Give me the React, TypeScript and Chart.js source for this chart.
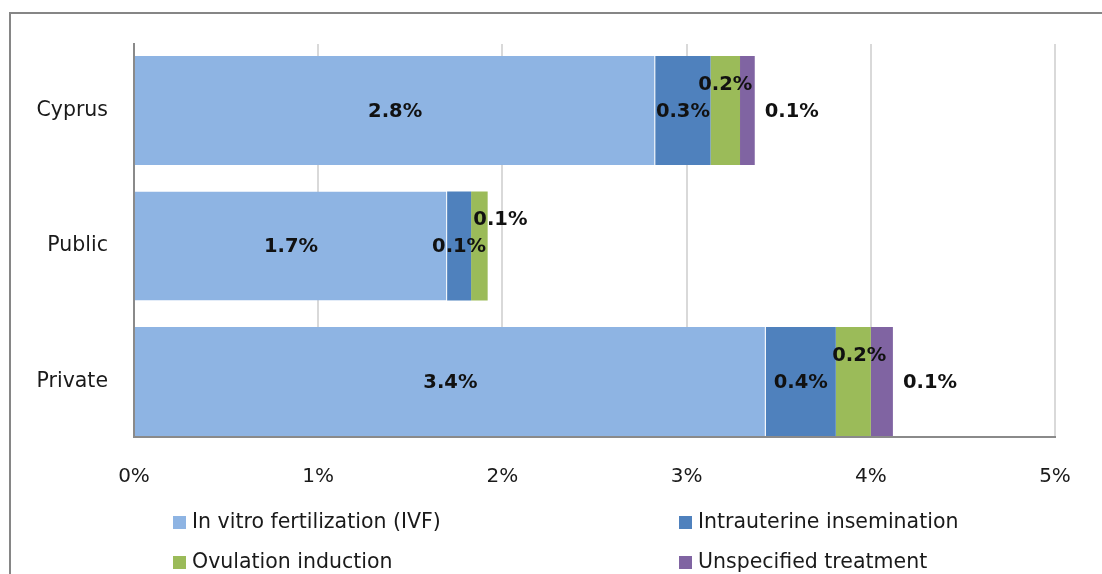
import React, { useEffect, useRef } from "react";
import { Chart, registerables } from "chart.js";

Chart.register(...registerables);

const categories = ["Cyprus", "Public", "Private"];
const seriesNames = [
  "In vitro fertilization (IVF)",
  "Intrauterine insemination",
  "Ovulation induction",
  "Unspecified treatment",
];
const ivf = [2.83, 1.7, 3.43];
const iui = [0.3, 0.13, 0.38];
const ovulation = [0.16, 0.09, 0.19];
const unspecified: (number | null)[] = [0.08, null, 0.12];
const xTickValues = [0, 1, 2, 3, 4, 5];

const COLORS = ["#8EB4E3", "#4F81BD", "#9BBB59", "#8064A2"];
const FONT = '"DejaVu Sans", sans-serif';
const TEXT = "#1a1a1a";

// label placement styles per dataset
const LABEL_STYLE = [
  { mode: "center", dy: 1, dx: [0, 0, 0] },
  { mode: "center", dy: 1, dx: [0, 0, 0] },
  { mode: "center", dy: -26, dx: [0, 21, 6] },
  { mode: "outside", dy: 1, gap: 10, dx: [0, 0, 0] },
];

const labelPlugin = {
  id: "barLabels",
  afterDatasetsDraw(chart: any) {
    const ctx = chart.ctx;
    ctx.save();
    ctx.font = `bold 19.5px ${FONT}`;
    ctx.fillStyle = "#111";
    ctx.textBaseline = "middle";
    chart.data.datasets.forEach((ds: any, di: number) => {
      const meta = chart.getDatasetMeta(di);
      const st: any = LABEL_STYLE[di];
      meta.data.forEach((el: any, i: number) => {
        const v = ds.data[i];
        if (v == null) return;
        const { x, y, base } = el.getProps(["x", "y", "base"], true);
        const text = v.toFixed(1) + "%";
        if (st.mode === "outside") {
          ctx.textAlign = "left";
          ctx.fillText(text, x + st.gap, y + st.dy);
        } else {
          ctx.textAlign = "center";
          ctx.fillText(text, (x + base) / 2 + (st.dx[i] || 0), y + st.dy);
        }
      });
    });
    ctx.restore();
  },
};

const LEGEND_COLS = [173, 679];
const LEGEND_ROWS = [522, 562];

const legendPlugin = {
  id: "gridLegend",
  afterDraw(chart: any) {
    const ctx = chart.ctx;
    ctx.save();
    ctx.font = `20.5px ${FONT}`;
    ctx.textBaseline = "middle";
    ctx.textAlign = "left";
    chart.data.datasets.forEach((ds: any, i: number) => {
      const x = LEGEND_COLS[i % 2];
      const y = LEGEND_ROWS[Math.floor(i / 2)];
      ctx.fillStyle = ds.backgroundColor;
      ctx.fillRect(x, y - 6, 13, 13);
      ctx.fillStyle = TEXT;
      ctx.fillText(ds.label, x + 19, y + 1);
    });
    ctx.restore();
  },
};

export default function App() {
  const ref = useRef<HTMLCanvasElement>(null);

  useEffect(() => {
    document.body.style.margin = "0";
    const datasets = [ivf, iui, ovulation, unspecified].map((d, i) => ({
      label: seriesNames[i],
      data: d,
      backgroundColor: COLORS[i],
      borderColor: "#ffffff",
      borderWidth: i === 0 ? { top: 0, right: 1, bottom: 0, left: 0 } : 0,
      borderSkipped: false as any,
      barPercentage: 0.804,
      categoryPercentage: 1,
    }));
    const chart = new Chart(ref.current!, {
      type: "bar",
      data: { labels: categories, datasets },
      plugins: [labelPlugin, legendPlugin],
      options: {
        indexAxis: "y",
        animation: false,
        responsive: true,
        maintainAspectRatio: false,
        layout: { padding: { top: 44, right: 47, bottom: 77, left: 0 } },
        plugins: {
          legend: { display: false },
          tooltip: { enabled: false },
          title: { display: false },
        },
        scales: {
          x: {
            stacked: true,
            min: 0,
            max: 5,
            afterBuildTicks: (scale: any) => {
              scale.ticks = xTickValues.map((v) => ({ value: v }));
            },
            afterFit: (scale: any) => {
              scale.height = 60;
            },
            ticks: {
              callback: (v: any) => v + "%",
              font: { family: FONT, size: 20 },
              color: TEXT,
              padding: 28,
            },
            grid: { color: "#d9d9d9", lineWidth: 2, drawTicks: false },
            border: { color: "#8a8a8a", width: 2 },
          },
          y: {
            stacked: true,
            afterBuildTicks: (scale: any) => {
              // Excel-like category placement: wider spacing, small top/bottom gaps
              scale._startValue = -0.4908;
              scale._valueRange = 2.9004;
            },
            afterFit: (scale: any) => {
              scale.width = 134;
            },
            ticks: {
              font: { family: FONT, size: 20.5 },
              color: TEXT,
              padding: 26,
            },
            grid: { display: false, drawTicks: false },
            border: { color: "#8a8a8a", width: 2 },
          },
        },
      },
    });
    return () => chart.destroy();
  }, []);

  return (
    <div style={{ position: "relative", width: 1102, height: 574, overflow: "hidden", background: "#fff" }}>
      <div
        style={{
          position: "absolute",
          left: 9,
          top: 12,
          right: -10,
          bottom: -10,
          borderLeft: "2px solid #868686",
          borderTop: "2px solid #868686",
        }}
      />
      <canvas ref={ref} style={{ position: "absolute", left: 0, top: 0, width: 1102, height: 574 }} />
    </div>
  );
}
